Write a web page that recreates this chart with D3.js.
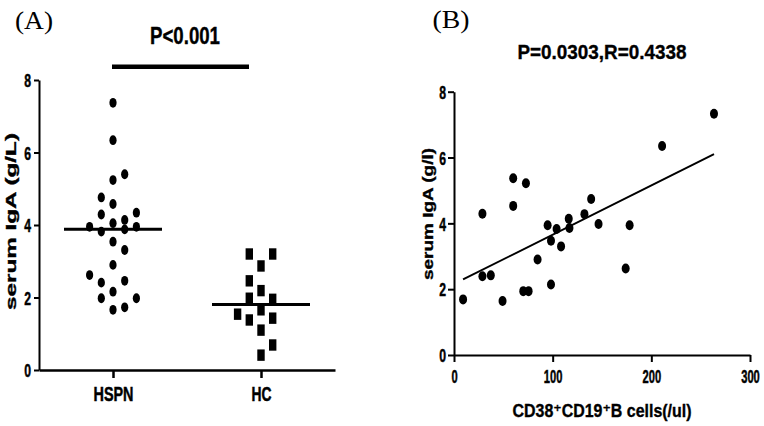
<!DOCTYPE html>
<html><head><meta charset="utf-8">
<script src="https://cdn.jsdelivr.net/npm/d3@7"></script>
<style>body{margin:0;background:#fff}svg{display:block}</style>
</head><body>
<svg id="c" width="764" height="426"></svg>
<script>
// ---------- data ----------
const groups = ["HSPN", "HC"];
const hspnValues = [7.37, 6.34, 5.40, 5.24, 4.76, 4.58, 4.34, 4.29, 4.14, 4.05, 3.95, 3.95, 3.88, 3.82, 3.54, 3.31, 2.90, 2.62, 2.46, 2.41, 2.16, 1.98, 1.98, 1.73, 1.66];
const hspnLane   = [0, 0, 1, 0, -1, 0, 2, -1, 1, 0, -2, 2, 1, -1, 0, 1, 0, -2, 1, -1, 0, -1, 2, 1, 0];
const hcValues = [3.20, 3.20, 2.87, 2.46, 2.19, 1.98, 1.95, 1.66, 1.54, 1.38, 1.43, 1.10, 0.69, 0.41];
const hcLane   = [-1, 1, 0, -1, 0, -1, 1, 0, -2, -1, 1, 0, 1, 0];
const yTicksA = [0, 2, 4, 6, 8];

const cellsX = [9.2, 28.8, 28.8, 37.3, 49.2, 60, 60, 72.9, 70.2, 75.6, 84.7, 94.9, 98.3, 98.3, 104, 108.5, 116.3, 117, 132.2, 139, 146.5, 174, 178, 210.9, 263.5];
const igaY   = [1.69, 4.29, 2.39, 2.42, 1.64, 5.37, 4.53, 5.22, 1.94, 1.94, 2.90, 3.94, 3.47, 2.14, 3.83, 3.30, 4.14, 3.86, 4.28, 4.74, 3.98, 2.63, 3.94, 6.35, 7.33];
const xTicksB = [0, 100, 200, 300];
const yTicksB = [0, 2, 4, 6, 8];

const panelLabels = ["(A)", "(B)"];
const titleA = "P<0.001";
const titleB = "P=0.0303,R=0.4338";
const yLabelA = "serum IgA (g/L)";
const yLabelB = "serum IgA (g/l)";
const xLabelB = "CD38\u207ACD19\u207AB cells(/ul)";

// ---------- drawing ----------
const svg = d3.select("#c");
const SANS = "'Liberation Sans', Arial, 'DejaVu Sans', sans-serif";
const SERIF = "'Liberation Serif', 'Times New Roman', serif";

function txt(g, s, x, y, o) {
  const t = g.append("text").attr("x", x).attr("y", y)
    .style("font-family", o.family || SANS)
    .style("font-weight", o.weight || "bold")
    .style("font-size", o.size + "px")
    .attr("text-anchor", o.anchor || "middle")
    .attr("fill", "#000")
    .text(s);
  if (o.len) t.attr("textLength", o.len).attr("lengthAdjust", "spacingAndGlyphs");
  if (o.rotate) t.attr("transform", `rotate(${o.rotate},${x},${y})`);
  if (o.weight !== "normal") t.attr("stroke", "#000").attr("stroke-width", 0.35);
  return t;
}
function styleAxis(g, w, fs, cw) {
  g.attr("font-size", null).attr("font-family", null);
  g.selectAll("path.domain").attr("stroke", "#000").attr("stroke-width", w);
  g.selectAll(".tick line").attr("stroke", "#000").attr("stroke-width", w);
  g.selectAll(".tick text").attr("fill", "#000")
    .attr("stroke", "#000").attr("stroke-width", 0.5)
    .style("font-family", SANS).style("font-weight", "bold").style("font-size", fs + "px")
    .each(function () {
      const n = this.textContent.length;
      d3.select(this).attr("textLength", n * cw).attr("lengthAdjust", "spacingAndGlyphs");
    });
}

// ===== Panel A =====
const xA = d3.scalePoint().domain(groups).range([39, 335]).padding(0.5);
const yA = d3.scaleLinear().domain([0, 8]).range([370, 80]);
const lane = 11.7;

const gA = svg.append("g");
const axYA = gA.append("g").attr("transform", "translate(39,0)")
  .call(d3.axisLeft(yA).tickValues(yTicksA).tickFormat(d3.format("d")).tickSize(5).tickSizeOuter(0).tickPadding(3));
styleAxis(axYA, 2, 19, 6.8);
axYA.selectAll(".tick text").attr("dy", "0.35em");

const axXA = gA.append("g").attr("transform", "translate(0,370)")
  .call(d3.axisBottom(xA).tickSize(8).tickSizeOuter(0));
styleAxis(axXA, 2.5, 20, 10);
axXA.selectAll(".tick text").attr("dy", 0).attr("y", 30.5);

// HSPN dots
gA.append("g").selectAll("ellipse").data(hspnValues).join("ellipse")
  .attr("cx", (d, i) => xA("HSPN") + hspnLane[i] * lane)
  .attr("cy", d => yA(d))
  .attr("rx", 3.6).attr("ry", 4.9).attr("fill", "#000");
// HC squares
gA.append("g").selectAll("rect").data(hcValues).join("rect")
  .attr("x", (d, i) => xA("HC") + hcLane[i] * lane - 3.7)
  .attr("y", d => yA(d) - 5.7)
  .attr("width", 7.4).attr("height", 11.4).attr("fill", "#000");
// medians
const meds = [d3.median(hspnValues), d3.median(hcValues)];
gA.append("g").selectAll("line").data(groups).join("line")
  .attr("x1", d => xA(d) - 49).attr("x2", d => xA(d) + 49)
  .attr("y1", (d, i) => yA(meds[i])).attr("y2", (d, i) => yA(meds[i]))
  .attr("stroke", "#000").attr("stroke-width", 3);
// significance bar
gA.append("line").attr("x1", xA("HSPN") - 1).attr("x2", xA("HC") - 12)
  .attr("y1", 66.7).attr("y2", 66.7).attr("stroke", "#000").attr("stroke-width", 4.5);
txt(gA, titleA, 185, 43.5, { size: 23, len: 70 });
txt(gA, panelLabels[0], 34, 29, { size: 26, family: SERIF, weight: "normal", len: 38 });
txt(gA, yLabelA, 16, 221.5, { size: 15.5, len: 177, rotate: -90 });

// ===== Panel B =====
const xB = d3.scaleLinear().domain([0, 300]).range([454, 750]);
const yB = d3.scaleLinear().domain([0, 8]).range([355, 91.7]);
const gB = svg.append("g");

const axYB = gB.append("g").attr("transform", "translate(454,0)")
  .call(d3.axisLeft(yB).tickValues(yTicksB).tickFormat(d3.format("d")).tickSize(6).tickSizeOuter(0).tickPadding(2));
styleAxis(axYB, 2, 19, 6.8);
axYB.selectAll(".tick text").attr("dy", "0.35em");

const axXB = gB.append("g").attr("transform", "translate(0,355)")
  .call(d3.axisBottom(xB).tickValues(xTicksB).tickFormat(d3.format("d")).tickSize(7).tickSizeOuter(0));
styleAxis(axXB, 2, 19, 6.2);
axXB.selectAll(".tick text").attr("dy", 0).attr("y", 27.5);

// regression line (least squares on the data)
const mx = d3.mean(cellsX), my = d3.mean(igaY);
const slope = d3.sum(cellsX, (x, i) => (x - mx) * (igaY[i] - my)) / d3.sum(cellsX, x => (x - mx) ** 2);
const icpt = my - slope * mx;
const ext = d3.extent(cellsX);
gB.append("path").datum(ext)
  .attr("d", d3.line().x(d => xB(d)).y(d => yB(icpt + slope * d)))
  .attr("stroke", "#000").attr("stroke-width", 2).attr("fill", "none");

gB.append("g").selectAll("ellipse").data(cellsX).join("ellipse")
  .attr("cx", d => xB(d)).attr("cy", (d, i) => yB(igaY[i]))
  .attr("rx", 4).attr("ry", 5).attr("fill", "#000");

txt(gB, titleB, 602, 59, { size: 20, len: 169 });
txt(gB, panelLabels[1], 451, 28, { size: 26, family: SERIF, weight: "normal", len: 37 });
txt(gB, yLabelB, 433, 214, { size: 15.5, len: 132, rotate: -90 });
txt(gB, xLabelB, 602, 417, { size: 17.5, len: 179 });
</script>
</body></html>
